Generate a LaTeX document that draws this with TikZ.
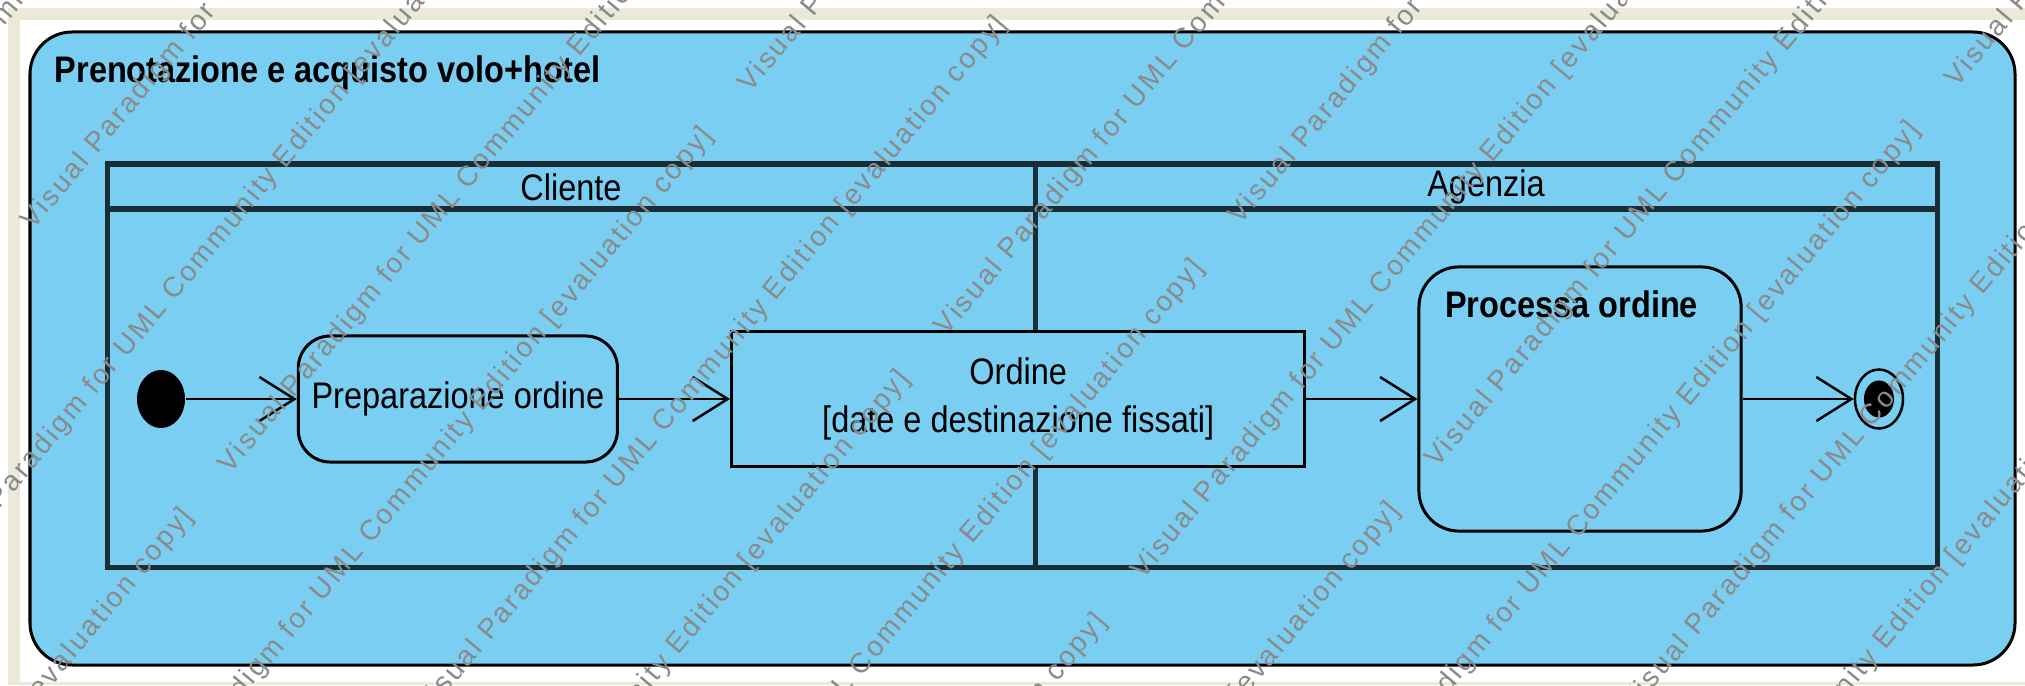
\documentclass[tikz,border=0pt]{standalone}
\usepackage{fontspec}
\setmainfont[FakeStretch=0.88]{Liberation Sans}
\newfontfamily\wmfont[LetterSpace=9]{Liberation Sans}
\usepackage{tikz}
\usetikzlibrary{arrows.meta,positioning,shapes}
\usepackage{xcolor}
\definecolor{vpblue}{RGB}{122,206,242}
\definecolor{winbeige}{RGB}{236,233,216}
\definecolor{lanedark}{RGB}{25,45,55}
\definecolor{wmgray}{RGB}{138,138,138}

\begin{document}
\begin{tikzpicture}[
    x=0.01cm, y=-0.01cm,
    node distance=1.11cm,
    font=\fontsize{10.5}{13.6}\selectfont,
    boldtext/.style={font=\fontsize{10.5}{13.6}\selectfont\bfseries, inner sep=0pt},
    frame/.style={draw, line width=0.03cm, fill=vpblue, rounded corners=0.42cm},
    lane/.style={draw=lanedark, line width=0.05cm},
    action/.style={draw, line width=0.03cm, fill=vpblue, rounded corners=0.32cm, align=center},
    objbox/.style={draw, line width=0.03cm, fill=vpblue, align=center},
    initnode/.style={ellipse, fill=black, minimum width=0.48cm, minimum height=0.58cm, inner sep=0pt},
    finalnode/.style={ellipse, draw, line width=0.025cm, fill=vpblue, minimum width=0.48cm, minimum height=0.59cm, inner sep=0pt},
    finaldot/.style={ellipse, fill=black, minimum width=0.30cm, minimum height=0.37cm, inner sep=0pt},
    flow/.style={-{Straight Barb[length=0.35cm, width=0.44cm]}, line width=0.025cm},
    watermark/.style={anchor=base west, rotate=50, text=wmgray, inner sep=0pt, font=\wmfont\fontsize{8}{10}\selectfont}
  ]
  \useasboundingbox (0,0) rectangle (2025,685);

  % Window background
  \fill[white] (0,0) rectangle (2025,685);
  \fill[winbeige] (8,8) rectangle (2025,20);
  \fill[winbeige] (8,8) rectangle (20,685);
  \fill[winbeige] (8,682) rectangle (2025,685);

  % Activity frame
  \draw[frame] (30,32) rectangle (2015,665);
  \node[boldtext, anchor=base west] (title) at (54,83) {Prenotazione e acquisto volo+hotel};

  % Partitions
  \draw[lane] (107,164) rectangle (1937,567);
  \draw[lane] (107,209) -- (1937,209);
  \draw[lane] (1035,164) -- (1035,567);
  \node (cliente) at (571,187) {Cliente};
  \node (agenzia) at (1486,187) {Agenzia};

  % Main components
  \node[initnode] (init) at (161,399) {};
  \node[action, right=of init, minimum width=3.19cm, minimum height=1.26cm] (prep) {Preparazione ordine};
  \node[objbox, right=of prep, minimum width=5.73cm, minimum height=1.35cm] (ordine) {Ordine\\{[date e destinazione fissati]}};
  \node[action, right=of ordine, minimum width=3.22cm, minimum height=2.64cm, rounded corners=0.4cm] (proc) {};
  \node[boldtext, anchor=base west] (proctitle) at ([xshift=0.27cm, yshift=-0.52cm]proc.north west) {Processa ordine};
  \node[finalnode, right=of proc] (final) {};
  \node[finaldot] (finaldot) at (final) {};

  % Connections
  \draw[flow] (init) -- (prep);
  \draw[flow] (prep) -- (ordine);
  \draw[flow] (ordine) -- (proc);
  \draw[flow] (proc) -- (final);

  % Watermark
  \begin{scope}
    \clip (0,0) rectangle (2025,685);
    \foreach \k in {-1,...,12} {
      \pgfmathsetmacro\rowp{174+153.5*\k}
      \pgfmathsetmacro\odd{mod(\k+2,2)}
      \pgfmathsetmacro\rows{mod(mod(-156-30*\k+656*\odd,960)+960,960)}
      \foreach \m in {-2,-1,0,1} {
        \pgfmathsetmacro\wx{0.766*\rowp+0.643*(\rows+960*\m)}
        \pgfmathsetmacro\wy{0.643*\rowp-0.766*(\rows+960*\m)}
        \node[watermark] (wm-\k-\m) at (\wx,\wy) {Visual Paradigm for UML Community Edition [evaluation copy]};
      }
    }
  \end{scope}

\end{tikzpicture}
\end{document}
